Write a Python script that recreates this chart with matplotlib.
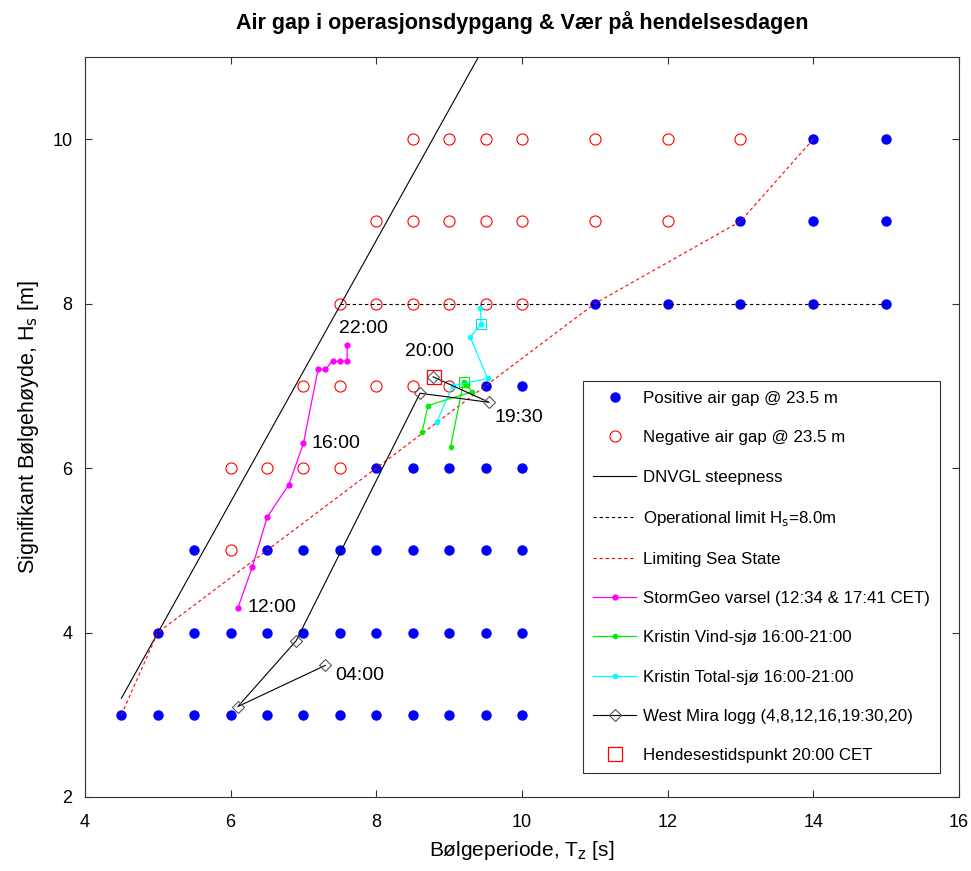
import numpy as np
import matplotlib.pyplot as plt

plt.rcParams['font.family'] = ['Liberation Sans', 'DejaVu Sans']

# Sea-state grid: positive air gap (blue dots), one list of Tz per Hs level
pos_H = [3, 4, 5, 6, 7, 8, 9, 10]
pos_T = [[4.5, 5, 5.5, 6, 6.5, 7, 7.5, 8, 8.5, 9, 9.5, 10],
         [5, 5.5, 6, 6.5, 7, 7.5, 8, 8.5, 9, 9.5, 10],
         [5.5, 6.5, 7, 7.5, 8, 8.5, 9, 9.5, 10],
         [8, 8.5, 9, 9.5, 10],
         [9.5, 10],
         [11, 12, 13, 14, 15],
         [13, 14, 15],
         [14, 15]]

# negative air gap (red open circles)
neg_H = [5, 6, 7, 8, 9, 10]
neg_T = [[6],
         [6, 6.5, 7, 7.5],
         [7, 7.5, 8, 8.5, 9],
         [7.5, 8, 8.5, 9, 9.5, 10],
         [8, 8.5, 9, 9.5, 10, 11, 12],
         [8.5, 9, 9.5, 10, 11, 12, 13]]

# DNVGL steepness line
dnv_T = [4.5, 10.0]
dnv_H = [3.2, 11.95]

# Operational limit Hs = 8.0 m
oplim_T = [7.5, 15]
oplim_H = [8.0, 8.0]

# Limiting sea state
lim_T = [4.5, 5, 11, 13, 14]
lim_H = [3.0, 4.0, 8.0, 9.0, 10.0]

# StormGeo forecast 12:00 -> 22:00
storm_T = [6.1, 6.3, 6.5, 6.8, 7.0, 7.2, 7.3, 7.4, 7.5, 7.6, 7.6]
storm_H = [4.3, 4.8, 5.4, 5.8, 6.3, 7.2, 7.2, 7.3, 7.3, 7.3, 7.5]

# Kristin wind sea 16:00-21:00
vind_T = [8.63, 8.71, 9.32, 9.23, 9.20, 9.02]
vind_H = [6.44, 6.76, 6.93, 7.01, 7.05, 6.26]

# Kristin total sea 16:00-21:00
total_T = [8.83, 9.05, 9.53, 9.29, 9.44, 9.43]
total_H = [6.56, 7.0, 7.09, 7.59, 7.75, 7.95]

# West Mira log (4, 8, 12, 16, 19:30, 20)
mira_T = [7.3, 6.1, 6.9, 8.6, 9.55, 8.78]
mira_H = [3.6, 3.1, 3.9, 6.91, 6.8, 7.11]

# incident time 20:00
event_T = [8.79]
event_H = [7.11]

fig = plt.figure(figsize=(9.71, 8.71), dpi=100)
ax = fig.add_axes([0.0875, 0.085, 0.900, 0.8496])

# grid points
for i, h in enumerate(pos_H):
    ax.plot(pos_T[i], [h] * len(pos_T[i]), 'o', color='#0000ff', markersize=7.5,
            markeredgewidth=0, label='Positive air gap @ 23.5 m' if i == 0 else None)
for i, h in enumerate(neg_H):
    ax.plot(neg_T[i], [h] * len(neg_T[i]), 'o', color='#ff0000', markerfacecolor='none',
            markersize=8, markeredgewidth=0.8,
            label='Negative air gap @ 23.5 m' if i == 0 else None)

ax.plot(dnv_T, dnv_H, '-', color='k', linewidth=0.8, label='DNVGL steepness')
ax.plot(oplim_T, oplim_H, '--', color='k', linewidth=0.8, dashes=(3, 2.5),
        label=r'Operational limit H$_{\rm s}$=8.0m')
ax.plot(lim_T, lim_H, '--', color='#ff0000', linewidth=0.8, dashes=(3, 2.5),
        label='Limiting Sea State')

ax.plot(storm_T, storm_H, '-o', color='#ff00ff', linewidth=0.9, markersize=3.5,
        label='StormGeo varsel (12:34 & 17:41 CET)')
ax.plot(vind_T, vind_H, '-o', color='#00ee00', linewidth=0.9, markersize=3,
        label='Kristin Vind-sjø 16:00-21:00')
ax.plot(vind_T[4:5], vind_H[4:5], 's', color='#00ee00', markerfacecolor='none',
        markersize=7, markeredgewidth=0.8)
ax.plot(total_T, total_H, '-o', color='#00ffff', linewidth=0.9, markersize=3,
        label='Kristin Total-sjø 16:00-21:00')
ax.plot(total_T[4:5], total_H[4:5], 's', color='#00e5e5', markerfacecolor='none',
        markersize=7, markeredgewidth=0.8)
ax.plot(mira_T, mira_H, '-D', color='k', linewidth=0.8, markersize=6,
        markerfacecolor='none', markeredgecolor='#555555', markeredgewidth=0.8,
        label='West Mira logg (4,8,12,16,19:30,20)')
ax.plot(event_T, event_H, 's', color='#ff0000', markerfacecolor='none',
        markersize=10, markeredgewidth=0.9, label='Hendesestidspunkt 20:00 CET')

# time labels
txt = dict(textcoords='offset points', fontsize=14, va='center', ha='left')
ax.annotate('12:00', (storm_T[0], storm_H[0]), xytext=(7, 0), **txt)
ax.annotate('16:00', (storm_T[4], storm_H[4]), xytext=(6, 0), **txt)
ax.annotate('22:00', (storm_T[-1], storm_H[-1]), xytext=(-6, 12), **txt)
ax.annotate('20:00', (event_T[0], event_H[0]), xytext=(-21, 18), **txt)
ax.annotate('19:30', (mira_T[4], mira_H[4]), xytext=(4, -11), **txt)
ax.annotate('04:00', (mira_T[0], mira_H[0]), xytext=(7, -7), **txt)

ax.set_xlim(4, 16)
ax.set_ylim(2, 11)
ax.set_xticks(np.arange(4, 17, 2))
ax.set_yticks(np.arange(2, 11, 2))
ax.tick_params(direction='in', top=True, right=True, labelsize=13, length=5,
               color='#333333')
ax.tick_params(axis='x', pad=12)
ax.tick_params(axis='y', pad=9)
for s in ax.spines.values():
    s.set_color('#333333')
    s.set_linewidth(0.8)

ax.set_xlabel(r'Bølgeperiode, T$_{\rm z}$ [s]', fontsize=15, labelpad=6)
ax.set_ylabel(r'Signifikant Bølgehøyde, H$_{\rm s}$ [m]', fontsize=15.5, labelpad=8)
ax.set_title('Air gap i operasjonsdypgang & Vær på hendelsesdagen',
             fontsize=15.5, fontweight='bold', pad=20)

leg = ax.legend(loc='lower right', bbox_to_anchor=(0.978, 0.032), fontsize=12.2,
                labelspacing=1.43, handlelength=2.5, handletextpad=0.4,
                borderpad=0.6, borderaxespad=0,
                fancybox=False, framealpha=1, edgecolor='#333333')
leg.get_frame().set_linewidth(0.8)

plt.savefig('out.png', dpi=100)
